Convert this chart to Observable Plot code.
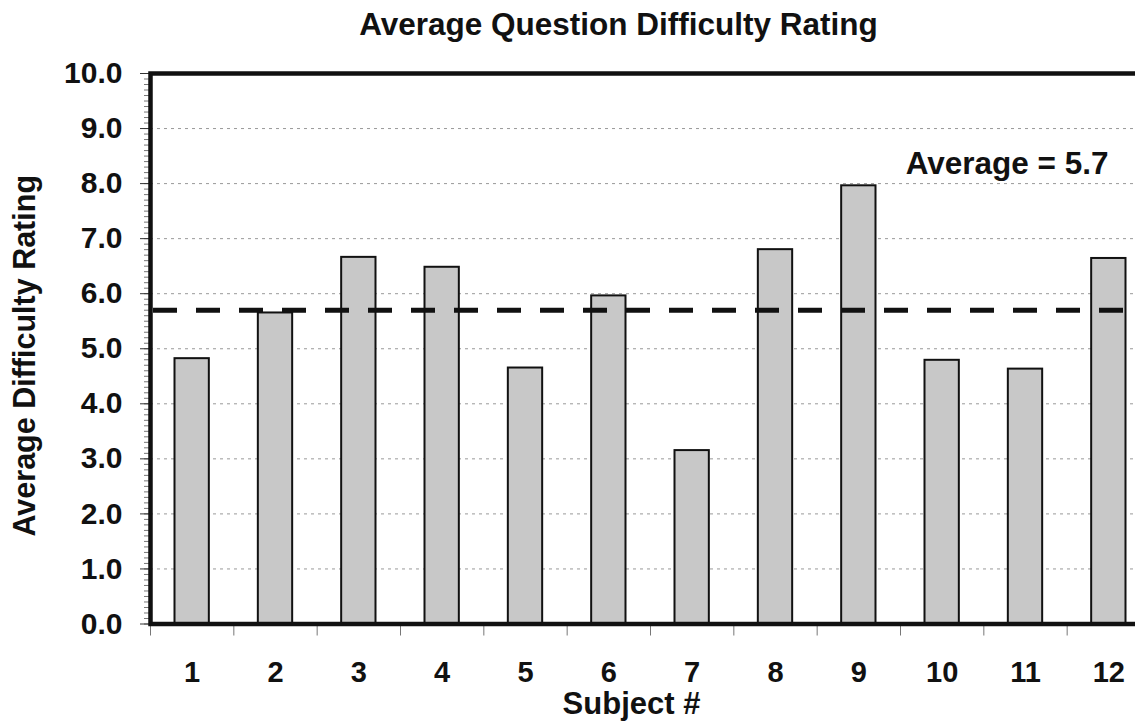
<!DOCTYPE html>
<html><head><meta charset="utf-8">
<script src="https://cdn.jsdelivr.net/npm/d3@7"></script>
<script src="https://cdn.jsdelivr.net/npm/@observablehq/plot@0.6"></script>
<style>
html,body{margin:0;padding:0;overflow:hidden;background:#fff;width:1135px;height:723px}
#chart{width:1160px}
#chart svg{display:block;max-width:none !important;height:723px !important}
</style>
</head><body><div id="chart"></div>
<script>
const subjects = [1, 2, 3, 4, 5, 6, 7, 8, 9, 10, 11, 12];
const ratings = [4.82, 5.65, 6.66, 6.48, 4.65, 5.96, 3.15, 6.80, 7.96, 4.79, 4.63, 6.64];
const average = 5.7;
const yTicks = [0, 1, 2, 3, 4, 5, 6, 7, 8, 9, 10];
const chartTitle = "Average Question Difficulty Rating";
const xTitle = "Subject #";
const yTitle = "Average Difficulty Rating";
const avgLabel = "Average = 5.7";

const data = subjects.map((s, i) => ({subject: s, rating: ratings[i]}));
const boundaries = subjects.map(s => s - 0.5).concat([subjects[subjects.length - 1] + 0.5]);
const minorTicks = d3.range(0, 101).map(i => i / 10);
const gridTicks = yTicks.filter(t => t > 0 && t < 10);
const font = '"Liberation Sans", Arial, Helvetica, sans-serif';

const plot = Plot.plot({
  width: 1160, height: 723,
  marginLeft: 150, marginRight: 10, marginTop: 73, marginBottom: 99.5,
  style: {fontFamily: font, fontWeight: "bold", background: "#fff", color: "#111"},
  x: {type: "linear", domain: [0.5, 12.5], label: null},
  y: {domain: [0, 10], label: null},
  marks: [
    Plot.ruleY(gridTicks, {stroke: "#999", strokeWidth: 1, strokeDasharray: "3,4"}),
    Plot.rectY(data, {x1: d => d.subject - 0.5, x2: d => d.subject + 0.5, y: "rating",
      insetLeft: 24.5, insetRight: 24.5, fill: "#c8c8c8", stroke: "#111", strokeWidth: 2}),
    Plot.ruleY([average], {stroke: "#111", strokeWidth: 5, strokeDasharray: "24,19", strokeDashoffset: -3}),
    Plot.axisY(minorTicks, {tickSize: 6, tickFormat: () => "", stroke: "#777", strokeWidth: 1}),
    Plot.axisY(yTicks, {tickSize: 10, tickPadding: 18, tickFormat: d3.format(".1f"),
      fontSize: 30, fontWeight: "bold", stroke: "#333", fill: "#111"}),
    Plot.axisX(boundaries, {tickSize: 12, tickFormat: () => "", stroke: "#777"}),
    Plot.axisX(subjects, {tickSize: 0, tickPadding: 37, fontSize: 29, fontWeight: "bold", fill: "#111"}),
    Plot.frame({stroke: "#111", strokeWidth: 4.5}),
    Plot.text([chartTitle], {text: d => d, frameAnchor: "top", dx: -32, dy: -39, lineAnchor: "bottom",
      textAnchor: "middle", fontSize: 31.5, fontWeight: "bold", fill: "#111"}),
    Plot.text([xTitle], {text: d => d, frameAnchor: "bottom", dx: -19, dy: 89.5, lineAnchor: "bottom",
      textAnchor: "middle", fontSize: 31, fontWeight: "bold", fill: "#111"}),
    Plot.text([yTitle], {text: d => d, frameAnchor: "left", dx: -137, dy: 7, rotate: -90, lineAnchor: "top",
      textAnchor: "middle", fontSize: 30.5, fontWeight: "bold", fill: "#111"}),
    Plot.text([avgLabel], {text: d => d, frameAnchor: "top-right", dx: -42, dy: 100, lineAnchor: "bottom",
      textAnchor: "end", fontSize: 31.5, fontWeight: "bold", fill: "#111"})
  ]
});
document.getElementById("chart").appendChild(plot);
</script>
</body></html>
